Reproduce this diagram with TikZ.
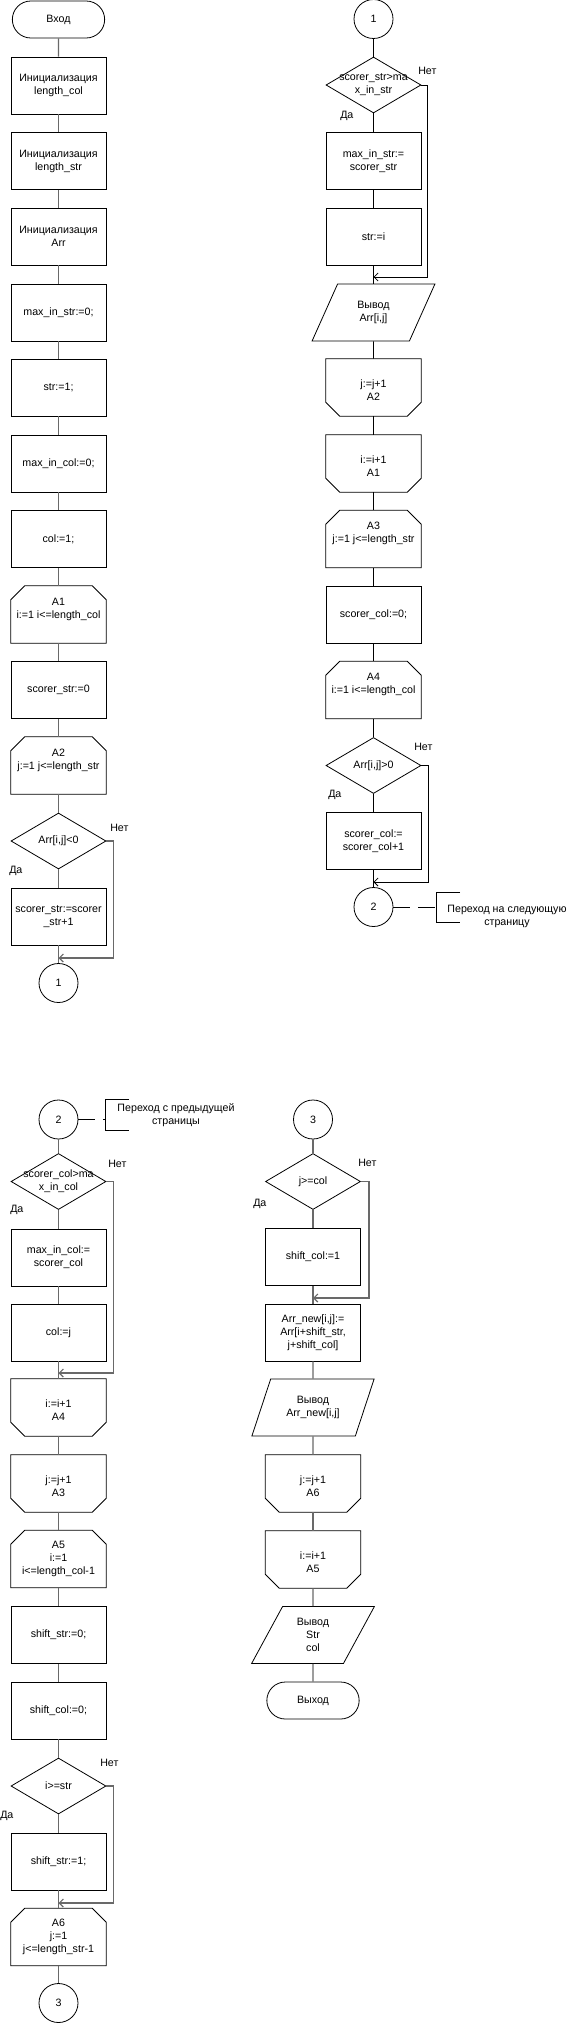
\documentclass[tikz,border=0pt]{standalone}
\usepackage{fontspec}
\setmainfont{Liberation Sans}
\usetikzlibrary{shapes.geometric,shapes.misc,arrows.meta}
\newcommand{\fs}{\fontsize{8}{9.75}\selectfont}
\definecolor{cg}{RGB}{105,105,105}
% outlines of loop start (top corners cut) and loop end (bottom corners cut)
\newcommand{\chamtop}[1]{\draw[lb] ([xshift=10.5pt]#1.north west) -- ([xshift=-10.5pt]#1.north east) -- ([yshift=-10.5pt]#1.north east) -- (#1.south east) -- (#1.south west) -- ([yshift=-10.5pt]#1.north west) -- cycle;}
\newcommand{\chambot}[1]{\draw[lb] (#1.north west) -- (#1.north east) -- ([yshift=10.5pt]#1.south east) -- ([xshift=-10.5pt]#1.south east) -- ([xshift=10.5pt]#1.south west) -- ([yshift=10.5pt]#1.south west) -- cycle;}
\begin{document}
\begin{tikzpicture}[x=0.75pt,y=-0.75pt,
  base/.style={draw=black, line width=0.6pt, font=\fs, align=center, inner sep=1pt},
  proc/.style={base, rectangle, minimum width=71.25pt, minimum height=42.75pt},
  term/.style={base, rounded rectangle, minimum width=71.25pt, minimum height=27.75pt},
  decis/.style={base, diamond, minimum width=71.25pt, minimum height=42pt, inner sep=0pt},
  conn/.style={base, circle, minimum size=29.25pt, inner sep=0pt},
  loopbox/.style={font=\fs, align=center, inner sep=1pt, rectangle, minimum width=71.25pt, minimum height=42.75pt},
  io/.style={base, trapezium, trapezium left angle=63.8, trapezium right angle=116.2, trapezium stretches=true, minimum width=92.25pt, minimum height=42.75pt},
  lbl/.style={font=\fs, align=center, inner sep=0pt},
  yn/.style={font=\fs, anchor=west, inner sep=0pt},
  lg/.style={draw=cg, line width=0.9pt},
  lb/.style={draw=black, line width=0.6pt},
  arr/.style={-{Straight Barb[length=3pt,width=6pt]}},
  note/.style={draw=black, line width=0.6pt},
  notedash/.style={draw=black, line width=0.6pt, dash pattern=on 12.75pt off 6pt}
]
\useasboundingbox (0,0) rectangle (571,2023);

% ---------- page 1, left column ----------
\node[term] (in) at (58.5,19.5) {Вход};
\node[proc] (b1) at (58.5,85.5) {Инициализация\\length\_col};
\node[proc] (b2) at (58.5,161) {Инициализация\\length\_str};
\node[proc] (b3) at (58.5,236.5) {Инициализация\\Arr};
\node[proc] (b4) at (58.5,312.5) {max\_in\_str:=0;};
\node[proc] (b5) at (58.5,387.5) {str:=1;};
\node[proc] (b6) at (58.5,463.5) {max\_in\_col:=0;};
\node[proc] (b7) at (58.5,539) {col:=1;};
\node[loopbox] (a1) at (58.5,614.5) {A1\\i:=1 i<=length\_col\\\mbox{}};
\node[proc] (b8) at (58.5,690) {scorer\_str:=0};
\node[loopbox] (a2) at (58.5,765.5) {A2\\j:=1 j<=length\_str\\\mbox{}};
\node[decis, label={[lbl]center:{Arr[i,j]<0}}] (d1) at (58.5,841) {};
\node[proc] (b9) at (58.5,916.5) {scorer\_str:=scorer\\\_str+1};
\coordinate (j1) at (58.5,958);
\node[conn] (c1) at (58.5,983) {1};
\node[yn] (n1) at (110,828) {Нет};
\node[yn] (y1) at (9,871) {Да};
\chamtop{a1}
\chamtop{a2}

\draw[lg] (in) -- (b1);
\draw[lg] (b1) -- (b2);
\draw[lg] (b2) -- (b3);
\draw[lg] (b3) -- (b4);
\draw[lg] (b4) -- (b5);
\draw[lg] (b5) -- (b6);
\draw[lg] (b6) -- (b7);
\draw[lg] (b7) -- (a1);
\draw[lg] (a1) -- (b8);
\draw[lg] (b8) -- (a2);
\draw[lg] (a2) -- (d1);
\draw[lg] (d1) -- (b9);
\draw[lg] (b9) -- (c1);
\draw[lg,arr] (d1.east) -- ++(7,0) |- (j1);

% ---------- page 1, right column ----------
\node[conn] (c1b) at (373.5,19) {1};
\node[decis, label={[lbl]center:{scorer\_str>ma\\x\_in\_str}}] (d2) at (373.5,85) {};
\node[proc] (b10) at (373.5,161) {max\_in\_str:=\\scorer\_str};
\node[proc] (b11) at (373.5,236.5) {str:=i};
\coordinate (j2) at (373.5,277);
\node[io] (p1) at (373.5,312.5) {Вывод\\Arr[i,j]};
\node[loopbox] (e1) at (373.5,387.5) {\mbox{}\\j:=j+1\\A2};
\node[loopbox] (e2) at (373.5,463.5) {\mbox{}\\i:=i+1\\A1};
\node[loopbox] (a3) at (373.5,539) {A3\\j:=1 j<=length\_str\\\mbox{}};
\node[proc] (b12) at (373.5,614.5) {scorer\_col:=0;};
\node[loopbox] (a4) at (373.5,690) {A4\\i:=1 i<=length\_col\\\mbox{}};
\node[decis, label={[lbl]center:{Arr[i,j]>0}}] (d3) at (373.5,765.5) {};
\node[proc] (b13) at (373.5,841) {scorer\_col:=\\scorer\_col+1};
\coordinate (j3) at (373.5,882);
\node[conn] (c2) at (373.5,907) {2};
\node[yn] (n2) at (418,71) {Нет};
\node[yn] (y2) at (340,116) {Да};
\node[yn] (n3) at (414,747) {Нет};
\node[yn] (y3) at (328,795) {Да};
\chambot{e1}
\chambot{e2}
\chamtop{a3}
\chamtop{a4}

\draw[lb] (c1b) -- (d2);
\draw[lb] (d2) -- (b10);
\draw[lb] (b10) -- (b11);
\draw[lb] (b11) -- (p1);
\draw[lb] (p1) -- (e1);
\draw[lb] (e1) -- (e2);
\draw[lb] (e2) -- (a3);
\draw[lb] (a3) -- (b12);
\draw[lb] (b12) -- (a4);
\draw[lb] (a4) -- (d3);
\draw[lb] (d3) -- (b13);
\draw[lb] (b13) -- (c2);
\draw[lb,arr] (d2.east) -- ++(6,0) |- (j2);
\draw[lb,arr] (d3.east) -- ++(7,0) |- (j3);

% note 1
\coordinate (k1) at (436,907);
\draw[note] (460,892) -- (436,892) -- (436,922) -- (460,922);
\draw[notedash] (c2.east) -- (k1);
\node[lbl] (t1) at (507,916) {Переход на следующую\\страницу};

% ---------- page 2, left column ----------
\node[conn] (c2b) at (58.5,1119.5) {2};
\coordinate (k2) at (105,1119.5);
\draw[note] (129,1099) -- (105,1099) -- (105,1130) -- (129,1130);
\draw[notedash] (c2b.east) -- (k2);
\node[lbl] (t2) at (176,1115) {Переход с предыдущей\\страницы};

\node[decis, label={[lbl]center:{scorer\_col>ma\\x\_in\_col}}] (d4) at (58.5,1181.5) {};
\node[proc] (b14) at (58.5,1257.5) {max\_in\_col:=\\scorer\_col};
\node[proc] (b15) at (58.5,1332.5) {col:=j};
\coordinate (j4) at (58.5,1373);
\node[loopbox] (e3) at (58.5,1407.5) {\mbox{}\\i:=i+1\\A4};
\node[loopbox] (e4) at (58.5,1483.5) {\mbox{}\\j:=j+1\\A3};
\node[loopbox] (a5) at (58.5,1559) {A5\\i:=1\\i<=length\_col-1};
\node[proc] (b16) at (58.5,1635) {shift\_str:=0;};
\node[proc] (b17) at (58.5,1710.5) {shift\_col:=0;};
\node[decis, label={[lbl]center:{i>=str}}] (d5) at (58.5,1786) {};
\node[proc] (b18) at (58.5,1861.5) {shift\_str:=1;};
\coordinate (j5) at (58.5,1903);
\node[loopbox] (a6) at (58.5,1937) {A6\\j:=1\\j<=length\_str-1};
\node[conn] (c3) at (58.5,2003) {3};
\node[yn] (n4) at (108,1164) {Нет};
\node[yn] (y4) at (10,1210) {Да};
\node[yn] (n5) at (100,1763) {Нет};
\node[yn] (y5) at (0,1816) {Да};
\chambot{e3}
\chambot{e4}
\chamtop{a5}
\chamtop{a6}

\draw[lg] (c2b) -- (d4);
\draw[lg] (d4) -- (b14);
\draw[lg] (b14) -- (b15);
\draw[lg] (b15) -- (e3);
\draw[lg] (e3) -- (e4);
\draw[lg] (e4) -- (a5);
\draw[lg] (a5) -- (b16);
\draw[lg] (b16) -- (b17);
\draw[lg] (b17) -- (d5);
\draw[lg] (d5) -- (b18);
\draw[lg] (b18) -- (a6);
\draw[lg] (a6) -- (c3);
\draw[lg,arr] (d4.east) -- ++(7,0) |- (j4);
\draw[lg,arr] (d5.east) -- ++(7,0) |- (j5);

% ---------- page 2, right column ----------
\node[conn] (c3b) at (313,1119.5) {3};
\node[decis, label={[lbl]center:{j>=col}}] (d6) at (313,1181.5) {};
\node[proc] (b19) at (313,1257) {shift\_col:=1};
\coordinate (j6) at (313,1298);
\node[proc] (b20) at (313,1332.5) {Arr\_new[i,j]:=\\Arr[i+shift\_str,\\j+shift\_col]};
\node[io] (p2) at (313,1407.5) {Вывод\\Arr\_new[i,j]};
\node[loopbox] (e5) at (313,1483.5) {\mbox{}\\j:=j+1\\A6};
\node[loopbox] (e6) at (313,1559.5) {\mbox{}\\i:=i+1\\A5};
\node[io] (p3) at (313,1635) {Вывод\\Str\\col};
\node[term] (out) at (313,1700.5) {Выход};
\node[yn] (n6) at (358,1163) {Нет};
\node[yn] (y6) at (253,1204) {Да};
\chambot{e5}
\chambot{e6}

\draw[lg] (c3b) -- (d6);
\draw[lg] (d6) -- (b19);
\draw[lg] (b19) -- (b20);
\draw[lg] (b20) -- (p2);
\draw[lg] (p2) -- (e5);
\draw[lg] (e5) -- (e6);
\draw[lg] (e6) -- (p3);
\draw[lg] (p3) -- (out);
\draw[lg,arr] (d6.east) -- ++(8,0) |- (j6);
\end{tikzpicture}
\end{document}
